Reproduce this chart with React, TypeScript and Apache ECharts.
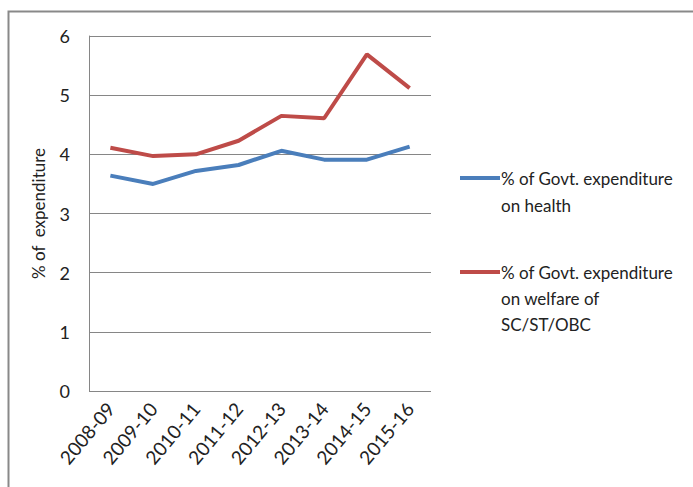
import React, { useEffect, useRef } from "react";
import * as echarts from "echarts";

const categories = ["2008-09", "2009-10", "2010-11", "2011-12", "2012-13", "2013-14", "2014-15", "2015-16"];
const healthValues = [3.64, 3.5, 3.72, 3.82, 4.06, 3.91, 3.91, 4.13];
const welfareValues = [4.11, 3.97, 4.0, 4.23, 4.65, 4.61, 5.69, 5.12];
const healthName = "% of Govt. expenditure on health";
const welfareName = "% of Govt. expenditure on welfare of SC/ST/OBC";
const FONT = "Lato, 'Open Sans', sans-serif";

export default function App() {
  const ref = useRef<HTMLDivElement>(null);
  useEffect(() => {
    if (!ref.current) return;
    const chart = echarts.init(ref.current, undefined, { renderer: "svg" });
    chart.setOption({
      animation: false,
      backgroundColor: "#ffffff",
      grid: { left: 89, top: 36, right: 262, bottom: 96 },
      xAxis: {
        type: "category",
        data: categories,
        boundaryGap: true,
        axisLine: { show: false },
        axisTick: { show: false },
        axisLabel: { rotate: 50, margin: 14, fontSize: 19, color: "#222", fontFamily: FONT, interval: 0 },
      },
      yAxis: {
        type: "value",
        min: 0,
        max: 6,
        interval: 1,
        name: "% of  expenditure",
        nameLocation: "middle",
        nameGap: 42,
        nameTextStyle: { fontSize: 17, color: "#222", fontFamily: FONT },
        axisLine: { show: true, lineStyle: { color: "#868686", width: 1 } },
        axisTick: { show: false },
        axisLabel: { fontSize: 18, color: "#222", fontFamily: FONT, margin: 19 },
        splitLine: { lineStyle: { color: "#868686", width: 1 } },
      },
      series: [
        {
          name: healthName,
          type: "line",
          data: healthValues,
          symbol: "none",
          lineStyle: { color: "#4a7ebb", width: 4 },
          itemStyle: { color: "#4a7ebb" },
        },
        {
          name: welfareName,
          type: "line",
          data: welfareValues,
          symbol: "none",
          lineStyle: { color: "#be4b48", width: 4 },
          itemStyle: { color: "#be4b48" },
        },
      ],
      graphic: [
        {
          type: "rect",
          shape: { x: 8.5, y: 11.5, width: 700, height: 500 },
          style: { fill: "none", stroke: "#898989", lineWidth: 2 },
          silent: true,
        },
        {
          type: "line",
          shape: { x1: 460, y1: 178, x2: 500, y2: 178 },
          style: { stroke: "#4a7ebb", lineWidth: 4 },
        },
        {
          type: "text",
          x: 501,
          y: 165,
          style: {
            text: "% of Govt. expenditure\non health",
            fontSize: 17,
            lineHeight: 27,
            fill: "#222",
            fontFamily: FONT,
          },
        },
        {
          type: "line",
          shape: { x1: 460, y1: 272, x2: 500, y2: 272 },
          style: { stroke: "#be4b48", lineWidth: 4 },
        },
        {
          type: "text",
          x: 501,
          y: 259,
          style: {
            text: "% of Govt. expenditure\non welfare of\nSC/ST/OBC",
            fontSize: 17,
            lineHeight: 26,
            fill: "#222",
            fontFamily: FONT,
          },
        },
      ],
    });
    return () => chart.dispose();
  }, []);
  return <div ref={ref} style={{ position: "fixed", left: 0, top: 0, width: 693, height: 487 }} />;
}
